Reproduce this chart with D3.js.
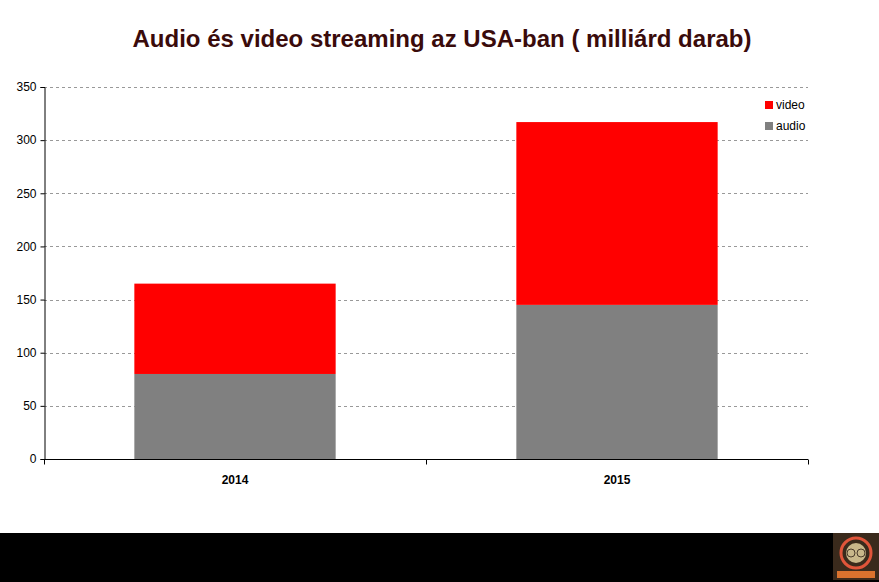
<!DOCTYPE html>
<html><head><meta charset="utf-8">
<script src="https://cdn.jsdelivr.net/npm/d3@7"></script>
<style>body{margin:0;background:#fff}svg{display:block}</style>
</head><body>
<svg id="c" width="879" height="582"></svg>
<script>
const title = "Audio és video streaming az USA-ban ( milliárd darab)";
const categories = ["2014", "2015"];
const audio = [80, 145];
const video = [85, 172];
const seriesNames = ["audio", "video"];
const seriesColors = ["#808080", "#ff0000"];
const yTicks = [0, 50, 100, 150, 200, 250, 300, 350];

const svg = d3.select("#c");
const m = {l: 44, r: 71, t: 87, b: 123};
const W = 879, H = 582;
const x = d3.scaleBand().domain(categories).range([m.l, W - m.r]).paddingInner(0).paddingOuter(0);
const y = d3.scaleLinear().domain([0, 350]).range([H - m.b, m.t]);

svg.append("rect").attr("width", W).attr("height", H).attr("fill", "#fff");

// title
svg.append("text").attr("x", 442).attr("y", 47).attr("text-anchor", "middle")
  .attr("font-family", "Liberation Sans, Arial, sans-serif").attr("font-weight", "bold")
  .attr("font-size", 24).attr("textLength", 619).attr("lengthAdjust", "spacingAndGlyphs")
  .attr("fill", "#3a0b0b").text(title);

// grid
svg.append("g").selectAll("line").data(yTicks.filter(d => d > 0)).join("line")
  .attr("x1", m.l).attr("x2", W - m.r).attr("y1", d => Math.round(y(d)) + 0.5).attr("y2", d => Math.round(y(d)) + 0.5)
  .attr("stroke", "#999").attr("stroke-dasharray", "3,3");

// bars
const stackData = categories.map((c, i) => ({cat: c, audio: audio[i], video: video[i]}));
const stack = d3.stack().keys(seriesNames)(stackData);
const bw = x.bandwidth() * 0.527;
svg.append("g").selectAll("g").data(stack).join("g")
  .attr("fill", (d, i) => seriesColors[i])
  .selectAll("rect").data(d => d).join("rect")
  .attr("x", d => x(d.data.cat) + (x.bandwidth() - bw) / 2)
  .attr("width", bw)
  .attr("y", d => y(d[1]))
  .attr("height", d => y(d[0]) - y(d[1]));

// y axis
const ya = svg.append("g").attr("transform", `translate(${m.l + 0.5},0)`)
  .call(d3.axisLeft(y).tickValues(yTicks).tickSize(4).tickPadding(4));
ya.select(".domain").attr("stroke", "#000");
ya.selectAll("text").attr("font-family", "Liberation Sans, Arial, sans-serif").attr("font-size", 12).attr("fill", "#000");

// x axis
const xa = svg.append("g").attr("transform", `translate(0,${Math.round(y(0)) + 0.5})`);
xa.append("line").attr("x1", m.l).attr("x2", W - m.r).attr("stroke", "#000");
const bounds = [m.l, ...categories.map(c => x(c) + x.bandwidth())];
xa.selectAll("line.t").data(bounds).join("line").attr("class", "t")
  .attr("x1", d => d + 0.5).attr("x2", d => d + 0.5).attr("y1", 0).attr("y2", 5).attr("stroke", "#000");
xa.selectAll("text").data(categories).join("text")
  .attr("x", d => x(d) + x.bandwidth() / 2).attr("y", 24).attr("text-anchor", "middle")
  .attr("font-family", "Liberation Sans, Arial, sans-serif").attr("font-weight", "bold").attr("font-size", 12)
  .text(d => d);

// legend
const legItems = ["video", "audio"];
const lg = svg.append("g").attr("transform", "translate(765,101)");
legItems.forEach((s, i) => {
  const g = lg.append("g").attr("transform", `translate(0,${i * 21})`);
  g.append("rect").attr("width", 8).attr("height", 8).attr("fill", seriesColors[seriesNames.indexOf(s)]);
  g.append("text").attr("x", 11).attr("y", 8).attr("font-family", "Liberation Sans, Arial, sans-serif")
    .attr("font-size", 12).text(s);
});

// bottom band
svg.append("rect").attr("x", 0).attr("y", 533).attr("width", W).attr("height", 49).attr("fill", "#000");
const logo = svg.append("g").attr("transform", "translate(833,533)");
logo.append("rect").attr("width", 46).attr("height", 47).attr("fill", "#3a2a1c");
logo.append("circle").attr("cx", 23).attr("cy", 20).attr("r", 15).attr("fill", "none").attr("stroke", "#e0553a").attr("stroke-width", 3);
logo.append("circle").attr("cx", 23).attr("cy", 20).attr("r", 10).attr("fill", "#c9b78a");
logo.append("circle").attr("cx", 18).attr("cy", 20).attr("r", 4).attr("fill", "none").attr("stroke", "#4a3a2a");
logo.append("circle").attr("cx", 28).attr("cy", 20).attr("r", 4).attr("fill", "none").attr("stroke", "#4a3a2a");
logo.append("rect").attr("x", 4).attr("y", 38).attr("width", 38).attr("height", 7).attr("fill", "#d9722e");
</script>
</body></html>
